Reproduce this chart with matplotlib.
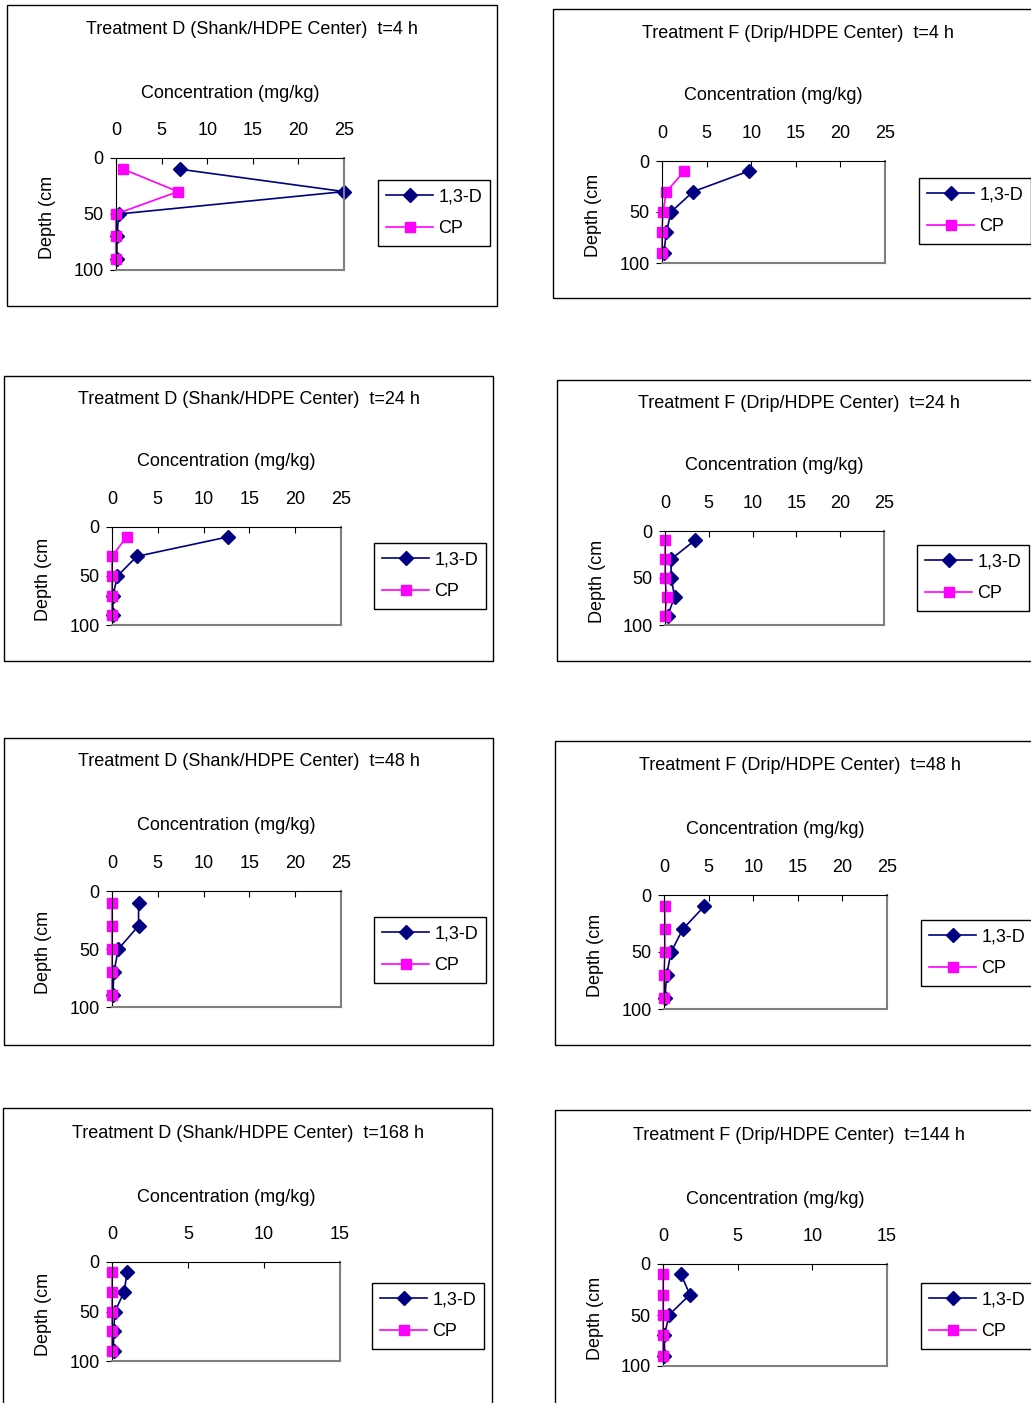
import matplotlib
matplotlib.use('Agg')
import matplotlib.pyplot as plt
from matplotlib.patches import Rectangle

plt.rcParams['font.family'] = ['Liberation Sans', 'DejaVu Sans']
plt.rcParams['font.size'] = 13

W, H = 1031, 1403

depth = [10, 30, 50, 70, 90]

titles = ["Treatment D (Shank/HDPE Center)  t=4 h",
          "Treatment F (Drip/HDPE Center)  t=4 h",
          "Treatment D (Shank/HDPE Center)  t=24 h",
          "Treatment F (Drip/HDPE Center)  t=24 h",
          "Treatment D (Shank/HDPE Center)  t=48 h",
          "Treatment F (Drip/HDPE Center)  t=48 h",
          "Treatment D (Shank/HDPE Center)  t=168 h",
          "Treatment F (Drip/HDPE Center)  t=144 h"]

# 1,3-D concentration (mg/kg) at each depth
d13 = [[7.0, 25.0, 0.3, 0.1, 0.1],
       [9.7, 3.5, 1.0, 0.5, 0.2],
       [12.7, 2.7, 0.6, 0.1, 0.1],
       [3.4, 0.7, 0.7, 1.1, 0.3],
       [2.9, 2.9, 0.7, 0.2, 0.1],
       [4.5, 2.1, 0.8, 0.3, 0.1],
       [1.0, 0.8, 0.2, 0.1, 0.1],
       [1.2, 1.8, 0.4, 0.1, 0.1]]

# CP concentration (mg/kg)
cp = [[0.8, 6.8, 0.0, 0.0, 0.0],
      [2.5, 0.5, 0.1, 0.0, 0.0],
      [1.6, 0.0, 0.0, 0.0, 0.0],
      [0.0, 0.0, 0.0, 0.2, 0.0],
      [0.0, 0.0, 0.0, 0.0, 0.0],
      [0.1, 0.1, 0.1, 0.0, 0.0],
      [0.0, 0.0, 0.0, 0.0, 0.0],
      [0.0, 0.0, 0.0, 0.0, 0.0]]

xmax = [25, 25, 25, 25, 25, 25, 15, 15]

# layout in pixels: frame (x0, y0, x1, y1), plot area (x0, y0, x1, y1), legend top-left, title y, xlabel y
frames = [(7, 5, 497, 306), (553, 9, 1040, 298),
          (4, 376, 493, 661), (557, 380, 1040, 661),
          (4, 738, 493, 1045), (555, 741, 1040, 1045),
          (3, 1108, 492, 1410), (555, 1110, 1040, 1410)]
plots = [(116, 158, 344, 270), (662, 161, 885, 263),
         (112, 527, 341, 625), (665, 531, 884, 625),
         (112, 891, 341, 1007), (664, 895, 887, 1009),
         (112, 1262, 340, 1361), (663, 1264, 887, 1366)]
legpos = [(378, 180), (919, 178), (374, 543), (917, 545),
          (374, 917), (921, 920), (372, 1283), (921, 1283)]
title_y = [26, 30, 397, 401, 759, 763, 1130, 1132]
xlab_y = [90, 93, 459, 463, 823, 827, 1194, 1196]

fig = plt.figure(figsize=(W / 100, H / 100), dpi=100)

for i in range(8):
    fx0, fy0, fx1, fy1 = frames[i]
    fig.patches.append(Rectangle((fx0 / W, 1 - fy1 / H), (fx1 - fx0) / W, (fy1 - fy0) / H,
                                 transform=fig.transFigure, fill=False,
                                 edgecolor='black', linewidth=1))
    px0, py0, px1, py1 = plots[i]
    ax = fig.add_axes([px0 / W, 1 - py1 / H, (px1 - px0) / W, (py1 - py0) / H])
    ax.plot(d13[i], depth, color='#000080', marker='D', markersize=7.5, linewidth=1.2,
            label='1,3-D')
    ax.plot(cp[i], depth, color='#FF00FF', marker='s', markersize=7.5, linewidth=1.2,
            label='CP')
    ax.set_xlim(0, xmax[i])
    ax.set_ylim(100, 0)
    ax.set_xticks(range(0, xmax[i] + 1, 5))
    ax.set_yticks([0, 50, 100])
    ax.xaxis.tick_top()
    ax.tick_params(axis='x', direction='in', length=4, pad=14, labelsize=13)
    ax.tick_params(axis='y', direction='out', length=4, pad=5, labelsize=13)
    for s in ['top', 'left']:
        ax.spines[s].set_color('black')
    for s in ['right', 'bottom']:
        ax.spines[s].set_color('#808080')
        ax.spines[s].set_linewidth(1.5)
    for line in ax.lines:
        line.set_clip_on(False)

    tx = (fx0 + fx1) / 2 if fx1 <= W else (px0 + px1) / 2 + 24
    fig.text(tx / W, 1 - (title_y[i] + 3) / H,
             titles[i], ha='center', va='center', fontsize=13)
    fig.text(((px0 + px1) / 2) / W, 1 - (xlab_y[i] + 3) / H, 'Concentration (mg/kg)',
             ha='center', va='center', fontsize=13)
    fig.text((fx0 + 40) / W, 1 - ((py0 + py1) / 2 + 3) / H, 'Depth (cm',
             ha='center', va='center', rotation=90, fontsize=13)

    lx, ly = legpos[i]
    leg = ax.legend(loc='upper left', bbox_to_anchor=(lx / W, 1 - ly / H),
                    bbox_transform=fig.transFigure, frameon=True, fancybox=False,
                    edgecolor='black', framealpha=1, fontsize=13, borderpad=0.45,
                    handlelength=2.6, handletextpad=0.3, labelspacing=0.85,
                    borderaxespad=0)
    leg.get_frame().set_linewidth(1)

fig.savefig('out.png', dpi=100)
